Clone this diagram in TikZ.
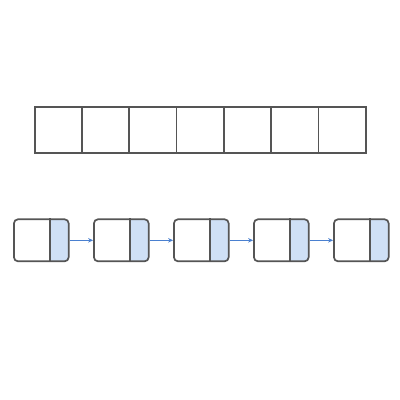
\documentclass[tikz,border=0pt]{standalone}
\usepackage{tikz}
\usetikzlibrary{arrows.meta}
\definecolor{edgegray}{HTML}{555555}
\definecolor{ptrblue}{HTML}{CFE0F5}
\definecolor{linkblue}{HTML}{4A80D0}
\tikzset{
	cell/.style = {draw=edgegray, line width=1.7pt, minimum width=47.3pt, minimum height=46pt, inner sep=0pt},
	lnode/.style = {draw=edgegray, line width=1.7pt, rounded corners=4pt, minimum width=54.7pt, minimum height=42pt, inner sep=0pt},
	link/.style = {draw=linkblue, line width=1pt, -{Stealth[length=5pt,width=4.5pt]}}
}
\begin{document}
\begin{tikzpicture}[x=1pt,y=-1pt]
			\useasboundingbox (0,0) rectangle (400,400);
			\fill[white] (0,0) rectangle (400,400);
			% array
			\foreach \i in {1,...,7}
				\node[cell] (a\i) at ({34.7+47.3*(\i-0.5)}, 129.7) {};
			% linked list
			\foreach \i in {1,...,5} {
				\coordinate (c\i) at ({41.3+80*(\i-1)}, 240.3);
				\begin{scope}
					\clip[rounded corners=4pt] ([shift={(-27.35,-21)}]c\i) rectangle ([shift={(27.35,21)}]c\i);
					\fill[ptrblue] ([shift={(8.05,-21)}]c\i) rectangle ([shift={(27.35,21)}]c\i);
				\end{scope}
				\node[lnode] (n\i) at (c\i) {};
				\draw[edgegray, line width=1.7pt] ([xshift=-19.3pt]n\i.north east) -- ([xshift=-19.3pt]n\i.south east);
			}
			\foreach \i/\j in {1/2,2/3,3/4,4/5}
				\draw[link] (n\i.east) -- (n\j.west);
		\end{tikzpicture}
\end{document}
